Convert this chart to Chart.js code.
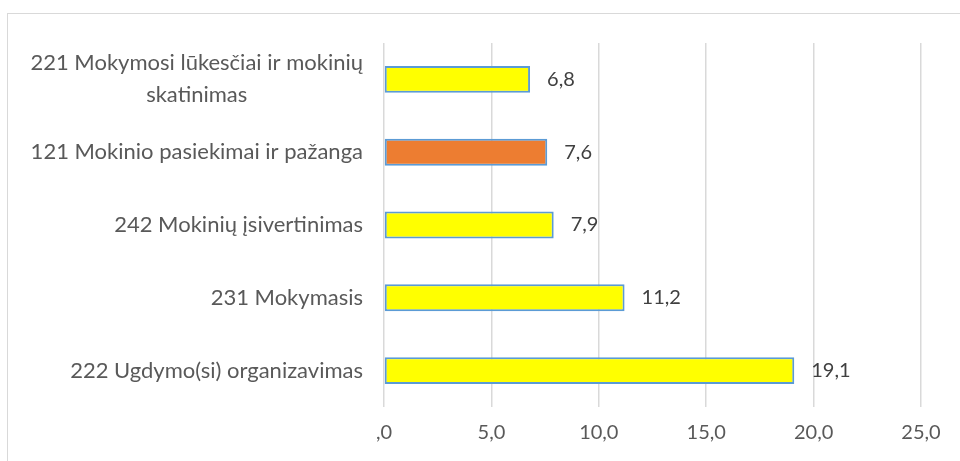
<!DOCTYPE html>
<html>
<head>
<meta charset="utf-8">
<script src="https://cdn.jsdelivr.net/npm/chart.js@4"></script>
<style>
  body { margin: 0; background: #fff; overflow: hidden; }
  #wrap { position: relative; width: 960px; height: 461px; }
  #frame { position: absolute; left: 7px; top: 13px; width: 1000px; height: 500px; border: 1px solid #d9d9d9; }
  canvas { position: absolute; left: 0; top: 0; }
</style>
</head>
<body>
<div id="wrap">
  <div id="frame"></div>
  <canvas id="chart" width="960" height="461"></canvas>
</div>
<script>
// duomenys
const categories = [
    ['221 Mokymosi lūkesčiai ir mokinių', 'skatinimas'],
    '121 Mokinio pasiekimai ir pažanga',
    '242 Mokinių įsivertinimas',
    '231 Mokymasis',
    '222 Ugdymo(si) organizavimas'
];
const values = [6.8, 7.6, 7.9, 11.2, 19.1];
const barColors = ['#FFFF00', '#ED7D31', '#FFFF00', '#FFFF00', '#FFFF00'];
const tickLabels = [',0', '5,0', '10,0', '15,0', '20,0', '25,0'];

const fontName = 'Lato, "Open Sans", sans-serif';

// y asies pavadinimai ir reiksmes prie stulpeliu
const labelPlugin = {
    id: 'labels',
    afterDatasetsDraw(chart) {
        const ctx = chart.ctx;
        const yScale = chart.scales.y;
        ctx.save();
        ctx.font = '22px ' + fontName;
        ctx.fillStyle = '#595959';
        ctx.textBaseline = 'middle';
        ctx.textAlign = 'center';
        categories.forEach((cat, i) => {
            const yc = yScale.getPixelForTick(i);
            const lines = Array.isArray(cat) ? cat : [cat];
            const w = Math.max(...lines.map(l => ctx.measureText(l).width));
            const right = yScale.right - 21;
            lines.forEach((l, j) => {
                ctx.fillText(l, right - w / 2, yc + (j - (lines.length - 1) / 2) * 32);
            });
        });

        const meta = chart.getDatasetMeta(0);
        ctx.font = '20px ' + fontName;
        ctx.fillStyle = '#404040';
        ctx.textAlign = 'left';
        meta.data.forEach((bar, i) => {
            ctx.fillText(values[i].toFixed(1).replace('.', ','), bar.x + 17, bar.y);
        });
        ctx.restore();
    }
};

const ctx = document.getElementById('chart').getContext('2d');
new Chart(ctx, {
    type: 'bar',
    data: {
        labels: categories,
        datasets: [{
            data: values,
            backgroundColor: barColors,
            borderColor: '#5B9BD5',
            borderWidth: 2,
            borderSkipped: false,
            categoryPercentage: 1,
            barPercentage: 0.37
        }]
    },
    options: {
        indexAxis: 'y',
        responsive: false,
        animation: false,
        layout: { padding: { top: 43, right: 39, left: 0, bottom: 0 } },
        plugins: {
            legend: { display: false },
            tooltip: { enabled: false }
        },
        scales: {
            x: {
                min: 0,
                max: 25,
                ticks: {
                    stepSize: 5,
                    padding: 14,
                    color: '#595959',
                    font: { family: fontName, size: 20 },
                    callback: (v, i) => tickLabels[i]
                },
                grid: { color: '#d9d9d9', lineWidth: 1.5, drawTicks: false },
                border: { display: false },
                afterFit: (scale) => { scale.height = 54; }
            },
            y: {
                ticks: { display: false },
                grid: { display: false },
                border: { display: false },
                afterFit: (scale) => { scale.width = 384; }
            }
        }
    },
    plugins: [labelPlugin]
});
</script>
</body>
</html>
